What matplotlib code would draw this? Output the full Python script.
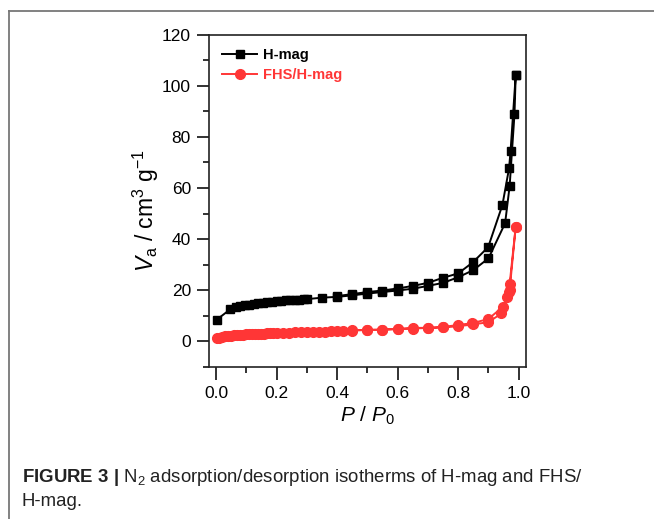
import matplotlib
matplotlib.use('Agg')
import matplotlib.pyplot as plt
from matplotlib.ticker import MultipleLocator
from matplotlib.lines import Line2D

plt.rcParams['font.family'] = ['Liberation Sans', 'DejaVu Sans']
plt.rcParams['mathtext.fontset'] = 'custom'
plt.rcParams['mathtext.rm'] = 'Liberation Sans'
plt.rcParams['mathtext.it'] = 'Liberation Sans:italic'
plt.rcParams['mathtext.bf'] = 'Liberation Sans:bold'

# H-mag, adsorption branch then desorption branch
hmag_ads_x = [0.003, 0.048, 0.065, 0.08, 0.095, 0.11, 0.125, 0.14, 0.155, 0.17,
              0.185, 0.2, 0.215, 0.23, 0.245, 0.26, 0.275, 0.29, 0.30, 0.35,
              0.40, 0.45, 0.50, 0.55, 0.60, 0.65, 0.70, 0.75, 0.80, 0.85,
              0.90, 0.955, 0.97, 0.986, 0.99]
hmag_ads_y = [8.4, 12.5, 13.2, 13.6, 14.0, 14.3, 14.6, 14.8, 15.0, 15.2,
              15.4, 15.6, 15.8, 15.9, 16.0, 16.1, 16.2, 16.3, 16.4, 17.0,
              17.3, 17.9, 18.6, 19.2, 19.8, 20.5, 21.6, 22.8, 25.0, 27.8,
              32.4, 46.2, 60.8, 89.0, 104.2]
hmag_des_x = [0.99, 0.973, 0.968, 0.946, 0.899, 0.848, 0.80, 0.75, 0.70, 0.65,
              0.60, 0.55, 0.50, 0.45, 0.40]
hmag_des_y = [104.2, 74.5, 67.7, 53.3, 36.8, 30.8, 26.5, 24.8, 22.8, 21.6,
              20.6, 19.8, 19.2, 18.4, 17.6]

# FHS/H-mag
fhs_ads_x = [0.002, 0.01, 0.02, 0.03, 0.04, 0.05, 0.06, 0.07, 0.08, 0.09,
             0.10, 0.11, 0.12, 0.13, 0.14, 0.15, 0.16, 0.17, 0.18, 0.19,
             0.20, 0.22, 0.24, 0.26, 0.28, 0.30, 0.32, 0.34, 0.36, 0.38,
             0.40, 0.42, 0.45, 0.50, 0.55, 0.60, 0.65, 0.70, 0.75, 0.80,
             0.85, 0.90, 0.943, 0.96, 0.97, 0.99]
fhs_ads_y = [1.0, 1.3, 1.6, 1.8, 2.0, 2.1, 2.2, 2.3, 2.4, 2.5,
             2.6, 2.65, 2.7, 2.75, 2.8, 2.85, 2.9, 2.95, 3.0, 3.05,
             3.1, 3.2, 3.3, 3.35, 3.45, 3.5, 3.6, 3.65, 3.7, 3.8,
             3.85, 3.9, 4.1, 4.3, 4.4, 4.6, 4.9, 5.1, 5.3, 5.8,
             6.5, 7.4, 10.8, 17.4, 20.0, 44.8]
fhs_des_x = [0.99, 0.97, 0.968, 0.948, 0.899, 0.847, 0.80, 0.75, 0.70, 0.65,
             0.60, 0.55, 0.50, 0.45]
fhs_des_y = [44.8, 22.4, 19.3, 13.4, 8.6, 7.0, 6.3, 5.5, 5.2, 5.1,
             4.8, 4.5, 4.4, 4.2]

red = '#ff3636'

fig = plt.figure(figsize=(6.54, 5.19), dpi=100)
ax = fig.add_axes([209/654, 1 - 366.5/519, 317/654, 331.5/519])

ax.plot(hmag_ads_x + hmag_des_x, hmag_ads_y + hmag_des_y, 's-', color='black',
        ms=6.3, lw=1.4, label='H-mag', zorder=3)
ax.plot(fhs_ads_x + fhs_des_x, fhs_ads_y + fhs_des_y, 'o-', color=red,
        ms=7, lw=1.4, label='FHS/H-mag', zorder=2)

ax.set_xlim(-0.023, 1.024)
ax.set_ylim(-10, 120)
ax.xaxis.set_major_locator(MultipleLocator(0.2))
ax.xaxis.set_minor_locator(MultipleLocator(0.1))
ax.yaxis.set_major_locator(MultipleLocator(20))
ax.yaxis.set_minor_locator(MultipleLocator(10))
ax.xaxis.set_major_formatter(plt.FormatStrFormatter('%.1f'))

for s in ax.spines.values():
    s.set_linewidth(1.2)
    s.set_color('#222222')
ax.tick_params(which='major', direction='out', length=9, width=1.3,
               labelsize=12.5, color='#222222')
ax.tick_params(which='minor', direction='out', length=4.5, width=1.3,
               color='#222222')
ax.tick_params(axis='x', which='major', pad=5)
ax.tick_params(axis='y', which='major', pad=4)

ax.set_xlabel(r'$P$ / $P_0$', fontsize=15, labelpad=3)
ax.set_ylabel(r'$V_\mathrm{a}$ / cm$^3$ g$^{-1}$', fontsize=16.5)
ax.yaxis.set_label_coords(-0.152, 0.47)

leg = ax.legend(loc='upper left', frameon=False, handlelength=2.4,
                borderaxespad=0.5, handletextpad=0.4, labelspacing=0.4,
                prop={'weight': 'bold', 'size': 10.5})
for txt, c in zip(leg.get_texts(), ['black', red]):
    txt.set_color(c)

# card frame
fig.add_artist(Line2D([9/654, 9/654], [0, 1 - 11/519], color='#777777', lw=1.3))
fig.add_artist(Line2D([9/654, 1], [1 - 11/519, 1 - 11/519], color='#777777', lw=1.3))

fig.text(22/654, 1 - 478/519,
         r'$\mathbf{FIGURE\ 3\ |}$ N$_2$ adsorption/desorption isotherms of H-mag and FHS/',
         fontsize=13.4, va='center', color='#222222')
fig.text(22/654, 1 - 501/519, 'H-mag.', fontsize=13.4,
         va='center', color='#222222')

fig.savefig('out.png', dpi=100)
